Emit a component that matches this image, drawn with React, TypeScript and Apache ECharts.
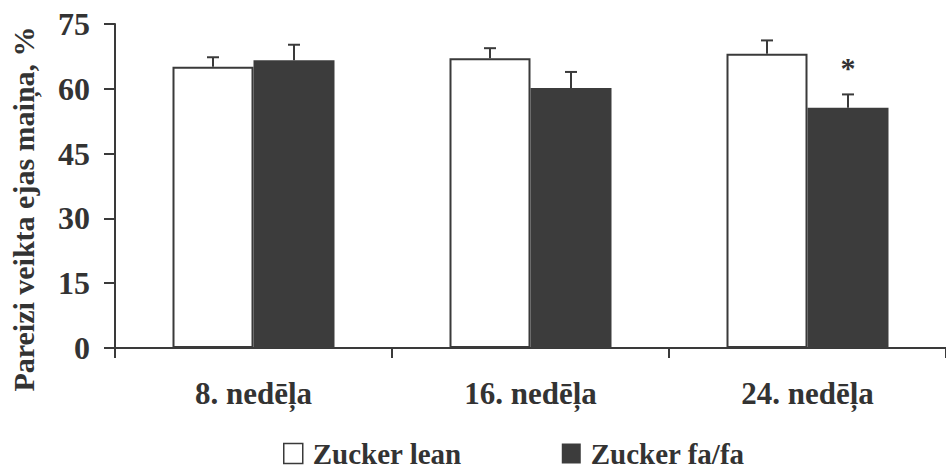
import React, { useEffect, useRef } from "react";
import * as echarts from "echarts";

// Week groups on the x axis
const categories = ["8. nedēļa", "16. nedēļa", "24. nedēļa"];

// Spontaneous alternation, % (mean and SEM)
const leanValues = [65.1, 67.1, 68.1];
const leanErrors = [2.2, 2.3, 3.1];
const faValues = [66.6, 60.2, 55.6];
const faErrors = [3.6, 3.7, 3.1];
// Groups marked with an asterisk (significant vs. lean)
const faSignificant = [false, false, true];

const yMin = 0;
const yMax = 75;
const yInterval = 15;
const yTitle = "Pareizi veikta ejas maiņa, %";

const FONT = '"Liberation Serif", "Times New Roman", serif';
const INK = "#333333";
const LINE = "#3a3a3a";
const BAR_W = 81;

function errorSeries(name: string, values: number[], errors: number[], offset: number, marks?: boolean[]) {
  return {
    name,
    type: "custom",
    z: 5,
    silent: true,
    data: values.map((v, i) => [i, v, errors[i], marks && marks[i] ? 1 : 0]),
    encode: { x: 0, y: 1 },
    renderItem: (params: any, api: any) => {
      const i = api.value(0);
      const v = api.value(1);
      const e = api.value(2);
      const mark = api.value(3);
      const base = api.coord([i, v]);
      const top = api.coord([i, v + e]);
      const x = base[0] + offset;
      const cap = 6;
      const children: any[] = [
        {
          type: "line",
          shape: { x1: x, y1: base[1], x2: x, y2: top[1] },
          style: { stroke: LINE, lineWidth: 2 },
        },
        {
          type: "line",
          shape: { x1: x - cap, y1: top[1], x2: x + cap, y2: top[1] },
          style: { stroke: LINE, lineWidth: 2 },
        },
      ];
      if (mark) {
        children.push({
          type: "text",
          style: {
            text: "*",
            x,
            y: top[1] - 27,
            textAlign: "center",
            textVerticalAlign: "middle",
            font: `bold 30px ${FONT}`,
            fill: INK,
          },
        });
      }
      return { type: "group", children };
    },
  };
}

export default function App() {
  const ref = useRef<HTMLDivElement>(null);

  useEffect(() => {
    if (!ref.current) return;
    const chart = echarts.init(ref.current, undefined, { renderer: "svg" });
    chart.setOption({
      animation: false,
      backgroundColor: "#ffffff",
      textStyle: { fontFamily: FONT },
      grid: { left: 115, right: -10, top: 24, bottom: 120, containLabel: false },
      graphic: [
        {
          type: "text",
          x: 23,
          y: 209,
          rotation: Math.PI / 2,
          style: {
            text: yTitle,
            textAlign: "center",
            textVerticalAlign: "middle",
            font: `bold 30px ${FONT}`,
            fill: INK,
          },
        },
      ],
      legend: {
        data: [
          { name: "Zucker lean", itemStyle: { color: "#ffffff", borderColor: LINE, borderWidth: 1.5 } },
          { name: "Zucker fa/fa", itemStyle: { color: "#3c3c3c" } },
        ],
        left: 283,
        top: 439,
        padding: 0,
        itemWidth: 19,
        itemHeight: 20,
        itemGap: 100,
        icon: "rect",
        textStyle: { fontFamily: FONT, fontWeight: "bold", fontSize: 29, color: INK, padding: [0, 0, 0, 5] },
      },
      xAxis: {
        type: "category",
        data: categories,
        axisLine: { lineStyle: { color: LINE, width: 2 } },
        axisTick: { show: true, length: 10, lineStyle: { color: LINE, width: 2 } },
        axisLabel: {
          margin: 30,
          fontFamily: FONT,
          fontWeight: "bold",
          fontSize: 31,
          color: INK,
        },
      },
      yAxis: {
        type: "value",
        min: yMin,
        max: yMax,
        interval: yInterval,
        axisLine: { show: true, lineStyle: { color: LINE, width: 2 } },
        axisTick: { show: true, length: 11, lineStyle: { color: LINE, width: 2 } },
        splitLine: { show: false },
        axisLabel: {
          margin: 25,
          fontFamily: FONT,
          fontWeight: "bold",
          fontSize: 32,
          color: INK,
        },
      },
      series: [
        {
          name: "Zucker lean",
          type: "bar",
          data: leanValues,
          barWidth: BAR_W,
          barGap: "0%",
          itemStyle: { color: "#ffffff", borderColor: LINE, borderWidth: 2 },
        },
        {
          name: "Zucker fa/fa",
          type: "bar",
          data: faValues,
          barWidth: BAR_W,
          barGap: "0%",
          itemStyle: { color: "#3c3c3c", borderColor: "#3c3c3c", borderWidth: 0 },
        },
        errorSeries("lean-err", leanValues, leanErrors, -BAR_W / 2),
        errorSeries("fa-err", faValues, faErrors, BAR_W / 2, faSignificant),
      ],
    });
    return () => chart.dispose();
  }, []);

  return (
    <div
      ref={ref}
      style={{ position: "fixed", left: 0, top: 0, width: 946, height: 468, background: "#fff" }}
    />
  );
}
